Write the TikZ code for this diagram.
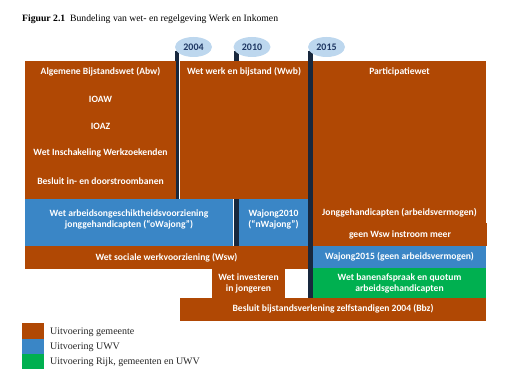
\documentclass[tikz,border=0pt]{standalone}
\usepackage{fontspec}
\setmainfont{Liberation Serif}
\newfontfamily\calib{Carlito}
\usetikzlibrary{shapes.geometric}
\definecolor{brn}{RGB}{176,72,4}
\definecolor{blu}{RGB}{58,134,198}
\definecolor{grn}{RGB}{0,176,80}
\definecolor{navy}{RGB}{24,40,62}
\definecolor{ell}{RGB}{189,215,238}
\definecolor{elltxt}{RGB}{31,56,100}
\tikzset{
  box/.style={rectangle, inner sep=0pt, outer sep=0pt, draw=none},
  lbl/.style={text=white, font=\calib\bfseries\fontsize{9.6}{11}\selectfont, align=center, inner sep=0pt},
  yearell/.style={ellipse, fill=ell, minimum width=37pt, minimum height=20pt, inner sep=0pt, text=elltxt, font=\calib\bfseries\fontsize{10}{12}\selectfont},
  pole/.style={draw=navy, line width=4.5pt},
  legtxt/.style={anchor=west, inner sep=0pt, font=\fontsize{10}{12}\selectfont, text=black!85},
  legsq/.style={rectangle, inner sep=0pt, minimum width=22pt, minimum height=15.4pt}
}
\begin{document}
\begin{tikzpicture}[x=1pt,y=-1pt]
\useasboundingbox (0,0) rectangle (505,382);
% title
\node[anchor=west, inner sep=0pt, font=\fontsize{9.7}{11}\selectfont] (title) at (22,19) {\textbf{Figuur 2.1}\enspace Bundeling van wet- en regelgeving Werk en Inkomen};
% year ellipses and poles
\coordinate (p04t) at (177,51); \coordinate (p04b) at (177,246);
\coordinate (p10t) at (236.5,51); \coordinate (p10b) at (236.5,246);
\coordinate (p15t) at (310.5,51); \coordinate (p15b) at (310.5,298);
\draw[pole] (p04t) -- (p04b);
\draw[pole] (p10t) -- (p10b);
\draw[pole] (p15t) -- (p15b);
\node[yearell] (y04) at (193.5,47) {2004};
\node[yearell] (y10) at (252,47) {2010};
\node[yearell] (y15) at (326.5,47) {2015};
% boxes
\node[box, fill=brn, minimum width=151pt, minimum height=138pt] (abw) at (100.5,130) {};
\node[box, fill=brn, minimum width=128pt, minimum height=138pt] (wwb) at (244,130) {};
\node[box, fill=brn, minimum width=173pt, minimum height=162pt] (part) at (399.5,142) {};
\node[box, fill=brn, minimum width=174pt, minimum height=23pt] (geen) at (400,234.5) {};
\node[box, fill=blu, minimum width=208pt, minimum height=47pt] (wajo) at (129,222.5) {};
\node[box, fill=blu, minimum width=69pt, minimum height=47pt] (wajn) at (273.5,222.5) {};
\node[box, fill=brn, minimum width=283pt, minimum height=23pt] (wsw) at (166.5,257.5) {};
\node[box, fill=blu, minimum width=173pt, minimum height=22pt] (waj15) at (399.5,257) {};
\node[box, fill=grn, minimum width=173pt, minimum height=30pt] (banen) at (399.5,283) {};
\node[box, fill=brn, minimum width=73pt, minimum height=29pt] (inv) at (248.5,283.5) {};
\node[box, fill=brn, minimum width=306pt, minimum height=23pt] (bbz) at (333,309.5) {};
% texts
\node[lbl] (t1) at (100.5,72) {Algemene Bijstandswet (Abw)};
\node[lbl] (t2) at (100.5,99) {IOAW};
\node[lbl] (t3) at (100.5,126) {IOAZ};
\node[lbl] (t4) at (100.5,153) {Wet Inschakeling Werkzoekenden};
\node[lbl] (t5) at (100.5,181) {Besluit in- en doorstroombanen};
\node[lbl] (t6) at (244,72) {Wet werk en bijstand (Wwb)};
\node[lbl] (t7) at (399.5,72) {Participatiewet};
\node[lbl] (t8) at (129,219.5) {Wet arbeidsongeschiktheidsvoorziening\\jonggehandicapten (“oWajong”)};
\node[lbl] (t9) at (273.5,219.5) {Wajong2010\\(“nWajong”)};
\node[lbl] (t10) at (399.5,213) {Jonggehandicapten (arbeidsvermogen)};
\node[lbl] (t11) at (400,234.5) {geen Wsw instroom meer};
\node[lbl] (t12) at (166.5,257.5) {Wet sociale werkvoorziening (Wsw)};
\node[lbl] (t13) at (399.5,257) {Wajong2015 (geen arbeidsvermogen)};
\node[lbl] (t14) at (399.5,283.5) {Wet banenafspraak en quotum\\arbeidsgehandicapten};
\node[lbl] (t15) at (248.5,283.5) {Wet investeren\\in jongeren};
\node[lbl] (t16) at (333,309) {Besluit bijstandsverlening zelfstandigen 2004 (Bbz)};
% legend
\node[legsq, fill=brn] (lg1) at (33,331) {};
\node[legsq, fill=blu] (lg2) at (33,346.3) {};
\node[legsq, fill=grn] (lg3) at (33,361.6) {};
\node[legtxt] (lt1) at (50,332) {Uitvoering gemeente};
\node[legtxt] (lt2) at (50,347) {Uitvoering UWV};
\node[legtxt] (lt3) at (50,362) {Uitvoering Rijk, gemeenten en UWV};
\end{tikzpicture}
\end{document}
